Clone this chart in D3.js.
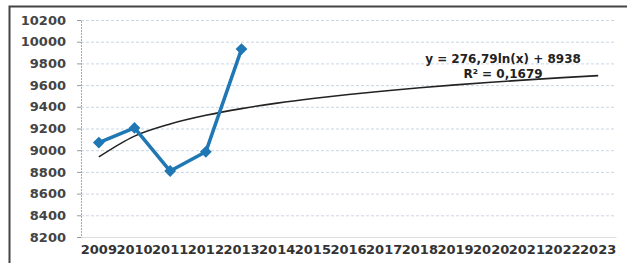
<!DOCTYPE html>
<html>
<head>
<meta charset="utf-8">
<script src="https://cdn.jsdelivr.net/npm/d3@7"></script>
<style>
  body { margin: 0; background: #fff; }
  svg { display: block; font-family: "DejaVu Sans", sans-serif; }
</style>
</head>
<body>
<div id="chart"></div>
<script>
const years = ["2009","2010","2011","2012","2013","2014","2015","2016","2017","2018","2019","2020","2021","2022","2023"];
const values = [9070, 9205, 8808, 8985, 9932];
const yTicks = [8200, 8400, 8600, 8800, 9000, 9200, 9400, 9600, 9800, 10000, 10200];
// trendline coefficients as printed on the chart
const trendA = 276.79;
const trendB = 8938;

const width = 627, height = 263;
const margin = { left: 81, right: 11, top: 20, bottom: 26 };

const svg = d3.select("#chart").append("svg")
  .attr("width", width)
  .attr("height", height);

// scanned frame
svg.append("path")
  .attr("d", `M9.5,${height} V6.5 H${width}`)
  .attr("fill", "none")
  .attr("stroke", "#444")
  .attr("stroke-width", 2);

const x = d3.scaleBand()
  .domain(years)
  .range([margin.left, width - margin.right]);

const y = d3.scaleLinear()
  .domain([8200, 10200])
  .range([height - margin.bottom, margin.top]);

// gridlines
svg.append("g")
  .selectAll("line")
  .data(yTicks)
  .join("line")
  .attr("x1", margin.left)
  .attr("x2", width - margin.right)
  .attr("y1", d => y(d) + 0.5)
  .attr("y2", d => y(d) + 0.5)
  .attr("stroke", (d, i) => i < 3 ? "#d9cfe6" : "#c9d6e6")
  .attr("stroke-width", 1)
  .attr("stroke-dasharray", "3,2");

// y axis
const yAxis = svg.append("g")
  .attr("transform", `translate(${margin.left},0)`)
  .call(d3.axisLeft(y).tickValues(yTicks).tickSize(4).tickFormat(d3.format("d")))
  .attr("font-family", "DejaVu Sans, sans-serif");
yAxis.select(".domain").attr("stroke", "#8fb0cc").attr("stroke-dasharray", "2,1");
yAxis.selectAll(".tick line").attr("stroke", "#999");
yAxis.selectAll("text")
  .attr("x", -15)
  .attr("fill", "#444")
  .attr("font-size", "13px")
  .attr("font-weight", "bold");

// x axis labels
const xAxis = svg.append("g")
  .attr("transform", `translate(0,${height - margin.bottom})`)
  .call(d3.axisBottom(x).tickSize(0))
  .attr("font-family", "DejaVu Sans, sans-serif");
xAxis.select(".domain").attr("stroke", "#ddd");
xAxis.selectAll("text")
  .attr("dy", "1.05em")
  .attr("fill", "#333")
  .attr("font-size", "13px")
  .attr("font-weight", "bold");

const cx = d => x(d) + x.bandwidth() / 2;

// logarithmic trendline
const trend = years.map((yr, i) => ({ yr, v: trendA * Math.log(i + 1) + trendB }));
svg.append("path")
  .datum(trend)
  .attr("d", d3.line().x(d => cx(d.yr)).y(d => y(d.v)).curve(d3.curveMonotoneX))
  .attr("fill", "none")
  .attr("stroke", "#222")
  .attr("stroke-width", 1.6);

// data line
const pts = values.map((v, i) => ({ yr: years[i], v }));
svg.append("path")
  .datum(pts)
  .attr("d", d3.line().x(d => cx(d.yr)).y(d => y(d.v)))
  .attr("fill", "none")
  .attr("stroke", "#1f77b4")
  .attr("stroke-width", 3.5)
  .attr("stroke-linejoin", "round");

svg.append("g")
  .selectAll("path")
  .data(pts)
  .join("path")
  .attr("d", d3.symbol(d3.symbolSquare, 70))
  .attr("transform", d => `translate(${cx(d.yr)},${y(d.v)}) rotate(45)`)
  .attr("fill", "#1f77b4");

// equation label
const eq = svg.append("g")
  .attr("font-size", "12px")
  .attr("font-weight", "bold")
  .attr("fill", "#222")
  .attr("text-anchor", "middle");
eq.append("text").attr("x", 503).attr("y", 63).text("y = 276,79ln(x) + 8938");
eq.append("text").attr("x", 503).attr("y", 78).text("R² = 0,1679");
</script>
</body>
</html>
